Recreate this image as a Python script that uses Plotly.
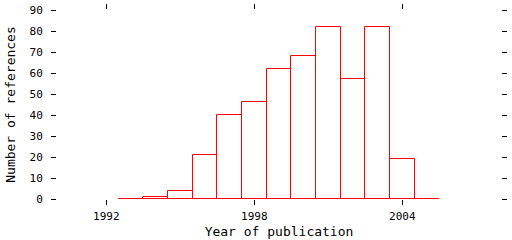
import plotly.graph_objects as go

years = [1993, 1994, 1995, 1996, 1997, 1998, 1999, 2000, 2001, 2002, 2003, 2004, 2005]
counts = [0, 1, 4, 21, 40, 46, 62, 68, 82, 57, 82, 19, 0]
x_ticks = [1992, 1998, 2004]
y_ticks = [0, 10, 20, 30, 40, 50, 60, 70, 80, 90]

RED = "#ff0000"
FONT = "DejaVu Sans Mono"

fig = go.Figure()
fig.add_trace(go.Bar(
    x=years, y=counts, width=1,
    marker=dict(color="rgba(0,0,0,0)", line=dict(color=RED, width=1)),
    showlegend=False, hoverinfo="skip",
))
# baseline across all bins
fig.add_trace(go.Scatter(
    x=[years[0] - 0.5, years[-1] + 0.5], y=[0, 0], mode="lines",
    line=dict(color=RED, width=1), showlegend=False, hoverinfo="skip",
))

fig.update_layout(
    width=512, height=240,
    margin=dict(l=57, r=11, t=4, b=39),
    paper_bgcolor="white", plot_bgcolor="white",
    font=dict(family=FONT, size=11, color="black"),
    bargap=0,
)
fig.update_xaxes(
    range=[1990, 2008], tickvals=x_ticks, ticktext=[str(v) for v in x_ticks],
    showgrid=False, zeroline=False, showline=False,
    ticks="outside", ticklen=5, tickwidth=1, tickcolor="black", mirror="ticks",
    ticklabelstandoff=2,
    title=dict(text="Year of publication", standoff=4),
)
fig.update_yaxes(
    range=[0, 90], tickvals=y_ticks,
    showgrid=False, zeroline=False, showline=False,
    ticks="outside", ticklen=5, tickwidth=1, tickcolor="black", mirror="ticks",
    ticklabelstandoff=6, ticklabeloverflow="allow",
    title=dict(text="Number of references", standoff=10),
)

fig.write_html("out.html")
